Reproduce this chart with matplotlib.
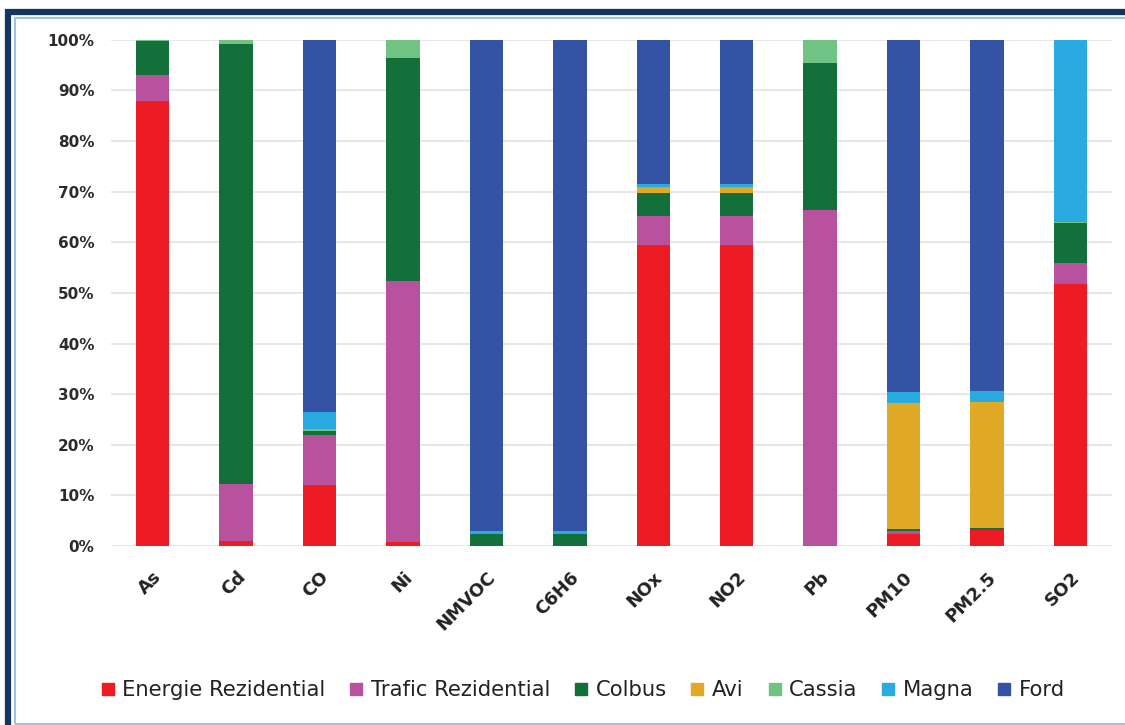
import numpy as np
import matplotlib
matplotlib.use("Agg")
import matplotlib.pyplot as plt
from matplotlib.patches import Rectangle
from matplotlib.lines import Line2D

categories = ["As", "Cd", "CO", "Ni", "NMVOC", "C6H6", "NOx", "NO2", "Pb", "PM10", "PM2.5", "SO2"]

energie = [88.0, 1.0, 12.0, 0.8, 0.0, 0.0, 59.5, 59.5, 0.0, 2.3, 3.1, 51.8]
trafic = [5.0, 11.2, 10.0, 51.5, 0.0, 0.0, 5.7, 5.7, 66.3, 0.7, 0.0, 4.2]
colbus = [6.7, 87.0, 0.8, 44.2, 2.3, 2.3, 4.6, 4.6, 29.2, 0.3, 0.4, 7.9]
avi = [0.0, 0.0, 0.0, 0.0, 0.0, 0.0, 0.9, 0.9, 0.0, 25.0, 24.9, 0.0]
cassia = [0.3, 0.8, 0.4, 3.5, 0.0, 0.0, 0.3, 0.3, 4.5, 0.0, 0.0, 0.2]
magna = [0.0, 0.0, 3.3, 0.0, 0.6, 0.6, 0.5, 0.5, 0.0, 2.1, 2.2, 35.9]
ford = [0.0, 0.0, 73.5, 0.0, 97.1, 97.1, 28.5, 28.5, 0.0, 69.6, 69.4, 0.0]

series = {
    "Energie Rezidential": (energie, "#ED1C24"),
    "Trafic Rezidential": (trafic, "#B8529E"),
    "Colbus": (colbus, "#13703A"),
    "Avi": (avi, "#E0A926"),
    "Cassia": (cassia, "#70C382"),
    "Magna": (magna, "#29ABE2"),
    "Ford": (ford, "#3453A5"),
}

fig = plt.figure(figsize=(11.25, 7.25), dpi=100)
ax = fig.add_axes([0.0987, 0.247, 0.8898, 0.698])

x = np.arange(len(categories))
bottom = np.zeros(len(categories))
handles = []
for name, (vals, color) in series.items():
    vals = np.array(vals)
    ax.bar(x, vals, 0.4, bottom=bottom, color=color, zorder=3)
    bottom += vals
    handles.append(Line2D([], [], marker="s", linestyle="", markersize=8.5,
                          markerfacecolor=color, markeredgecolor=color, label=name))

ax.set_xlim(-0.5, len(categories) - 0.5)
ax.set_ylim(0, 100)
ax.set_yticks(np.arange(0, 101, 10))
ax.set_yticklabels([f"{v}%" for v in range(0, 101, 10)],
                   fontfamily="DejaVu Sans", fontweight="bold", fontsize=11, color="#2b2b2b")
ax.set_xticks(x)
ax.set_xticklabels(categories, rotation=45, ha="right", rotation_mode="anchor",
                   fontfamily="DejaVu Sans", fontweight="bold", fontsize=13, color="#222222")
ax.tick_params(axis="both", length=0)
ax.tick_params(axis="x", pad=16)
ax.tick_params(axis="y", pad=12)
ax.grid(axis="y", color="#e3e3e3", linewidth=1.2, zorder=0)
for s in ax.spines.values():
    s.set_visible(False)

fig.legend(handles=handles, loc="center", bbox_to_anchor=(0.518, 1 - 690 / 725),
           ncol=7, frameon=False, handlelength=0.7, handletextpad=0.35, columnspacing=1.1,
           prop={"family": "DejaVu Sans", "size": 15.2}, labelcolor="#222222")

# double frame around the picture
fig.patches.append(Rectangle((8 / 1125, -0.01), 1.1, 1 - 8 / 725 + 0.01 - 4 / 725,
                             transform=fig.transFigure, fill=False,
                             edgecolor="#14365E", linewidth=4.5))
fig.patches.append(Rectangle((14.5 / 1125, 1.0 / 725), 1.1, 1 - 18.5 / 725,
                             transform=fig.transFigure, fill=False,
                             edgecolor="#9DC3E6", linewidth=1.5))

fig.savefig("out.png", dpi=100)
